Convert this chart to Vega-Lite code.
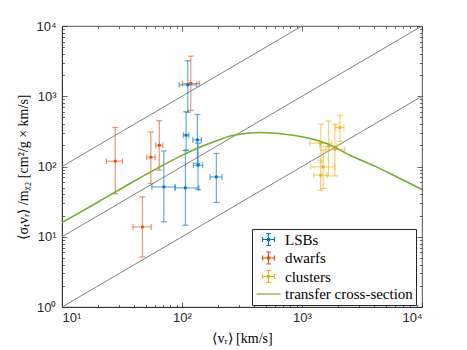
{
  "$schema": "https://vega.github.io/schema/vega-lite/v6.json",
  "width": 360,
  "height": 281,
  "autosize": "none",
  "padding": {"left": 62, "top": 26, "right": 45, "bottom": 43},
  "background": "white",
  "config": {
    "view": {"stroke": "#262626", "strokeWidth": 0.8},
    "axis": {
      "domainColor": "#262626", "domainWidth": 0.8,
      "tickColor": "#262626", "tickWidth": 0.7,
      "labelFont": "Liberation Sans", "labelFontSize": 13, "labelColor": "#262626",
      "titleFont": "Liberation Serif", "titleFontSize": 14, "titleFontWeight": "normal", "titleColor": "#000000",
      "grid": false, "labelOverlap": false, "labelBound": false
    }
  },
  "datasets": {
    "pts": [
      {"s": "LSBs", "x": 111.8, "xlo": 94.6, "xhi": 132.8, "y": 1453, "ylo": 594, "yhi": 3194},
      {"s": "LSBs", "x": 108.2, "xlo": 102.7, "xhi": 113.9, "y": 279, "ylo": 170.7, "yhi": 600},
      {"s": "LSBs", "x": 134.3, "xlo": 123, "xhi": 145, "y": 239, "ylo": 111, "yhi": 550},
      {"s": "LSBs", "x": 136.1, "xlo": 124.4, "xhi": 148.9, "y": 104.3, "ylo": 47, "yhi": 215},
      {"s": "LSBs", "x": 193.3, "xlo": 171.3, "xhi": 215.6, "y": 71.1, "ylo": 30.7, "yhi": 153.2},
      {"s": "LSBs", "x": 70.6, "xlo": 56.1, "xhi": 87.6, "y": 51.2, "ylo": 16.3, "yhi": 166.8},
      {"s": "LSBs", "x": 106.7, "xlo": 87.6, "xhi": 138, "y": 49.6, "ylo": 14.6, "yhi": 169},
      {"s": "dwarfs", "x": 27.8, "xlo": 23.4, "xhi": 31.9, "y": 119, "ylo": 41, "yhi": 359},
      {"s": "dwarfs", "x": 55, "xlo": 50.9, "xhi": 59.7, "y": 135.7, "ylo": 57.3, "yhi": 311},
      {"s": "dwarfs", "x": 64.7, "xlo": 60.5, "xhi": 69.2, "y": 201, "ylo": 88.6, "yhi": 449},
      {"s": "dwarfs", "x": 46.8, "xlo": 39, "xhi": 55.3, "y": 13.8, "ylo": 5.16, "yhi": 36.9},
      {"s": "dwarfs", "x": 118.4, "xlo": 100.8, "xhi": 139.6, "y": 1521, "ylo": 628, "yhi": 3725},
      {"s": "clusters", "x": 2067, "xlo": 1914, "xhi": 2232, "y": 359, "ylo": 229, "yhi": 538},
      {"s": "clusters", "x": 1664, "xlo": 1409, "xhi": 1951, "y": 194.6, "ylo": 73.5, "yhi": 446},
      {"s": "clusters", "x": 1878, "xlo": 1581, "xhi": 2275, "y": 174.7, "ylo": 73.5, "yhi": 400},
      {"s": "clusters", "x": 1501, "xlo": 1179, "xhi": 1878, "y": 98.7, "ylo": 48.6, "yhi": 170.7},
      {"s": "clusters", "x": 1428, "xlo": 1256, "xhi": 1621, "y": 75.2, "ylo": 46, "yhi": 123},
      {"s": "clusters", "x": 1436, "xlo": 1163, "xhi": 1763, "y": 214.7, "ylo": 115, "yhi": 400}
    ],
    "curve": [
      {"v": 10, "sv": 15.9},
      {"v": 20, "sv": 31.3},
      {"v": 39.8, "sv": 61.7},
      {"v": 63.1, "sv": 95.5},
      {"v": 100, "sv": 144},
      {"v": 132.8, "sv": 180.5},
      {"v": 199.5, "sv": 237},
      {"v": 267.7, "sv": 279},
      {"v": 446, "sv": 305},
      {"v": 845, "sv": 279},
      {"v": 1602, "sv": 212.6},
      {"v": 2512, "sv": 144.6},
      {"v": 4176, "sv": 98.7},
      {"v": 6310, "sv": 69.7},
      {"v": 10000, "sv": 47}
    ],
    "diag": [
      {"x": 10, "y": 100, "x2": 1000, "y2": 10000},
      {"x": 10, "y": 10, "x2": 10000, "y2": 10000},
      {"x": 10, "y": 1, "x2": 10000, "y2": 1000}
    ]
  },
  "layer": [
    {
      "data": {"name": "diag"},
      "mark": {"type": "rule", "color": "#808080", "strokeWidth": 1},
      "encoding": {
        "x": {"field": "x", "type": "quantitative",
          "scale": {"type": "log", "domain": [10, 10000], "nice": false},
          "axis": {
            "orient": "bottom",
            "title": "⟨vᵣ⟩ [km/s]",
            "titlePadding": 5,
            "values": [10,20,30,40,50,60,70,80,90,100,200,300,400,500,600,700,800,900,1000,2000,3000,4000,5000,6000,7000,8000,9000,10000],
            "labelExpr": "datum.value == 10 ? '10¹' : datum.value == 100 ? '10²' : datum.value == 1000 ? '10³' : datum.value == 10000 ? '10⁴' : ''",
            "tickSize": {"condition": {"test": "indexof([10,100,1000,10000], datum.value) >= 0", "value": -5}, "value": -2.5},
            "labelPadding": 9
          }
        },
        "y": {"field": "y", "type": "quantitative",
          "scale": {"type": "log", "domain": [1, 10000], "nice": false},
          "axis": {
            "orient": "left",
            "title": "⟨σₜvᵣ⟩ /mᵪ₂   [cm²/g × km/s]",
            "titlePadding": 5,
            "values": [1,2,3,4,5,6,7,8,9,10,20,30,40,50,60,70,80,90,100,200,300,400,500,600,700,800,900,1000,2000,3000,4000,5000,6000,7000,8000,9000,10000],
            "labelExpr": "datum.value == 1 ? '10⁰' : datum.value == 10 ? '10¹' : datum.value == 100 ? '10²' : datum.value == 1000 ? '10³' : datum.value == 10000 ? '10⁴' : ''",
            "tickSize": {"condition": {"test": "indexof([1,10,100,1000,10000], datum.value) >= 0", "value": -5}, "value": -2.5},
            "labelPadding": 11
          }
        },
        "x2": {"field": "x2"},
        "y2": {"field": "y2"}
      }
    },
    {
      "data": {"name": "pts"},
      "mark": {"type": "rule", "strokeWidth": 1.2, "opacity": 0.6},
      "encoding": {
        "x": {"field": "x", "type": "quantitative", "axis": null},
        "y": {"field": "ylo", "type": "quantitative", "axis": null},
        "y2": {"field": "yhi"},
        "color": {"field": "s", "type": "nominal", "legend": null,
          "scale": {"domain": ["LSBs", "dwarfs", "clusters", "transfer cross-section"], "range": ["#0072BD", "#D95319", "#EDB120", "#77AC30"]}}
      }
    },
    {
      "data": {"name": "pts"},
      "mark": {"type": "rule", "strokeWidth": 1.2, "opacity": 0.6},
      "encoding": {
        "x": {"field": "xlo", "type": "quantitative", "axis": null},
        "x2": {"field": "xhi"},
        "y": {"field": "y", "type": "quantitative", "axis": null},
        "color": {"field": "s", "type": "nominal", "legend": null}
      }
    },
    {
      "data": {"name": "pts"},
      "mark": {"type": "tick", "orient": "horizontal", "size": 6, "thickness": 1.2, "opacity": 0.6},
      "encoding": {
        "x": {"field": "x", "type": "quantitative", "axis": null},
        "y": {"field": "ylo", "type": "quantitative", "axis": null},
        "color": {"field": "s", "type": "nominal", "legend": null}
      }
    },
    {
      "data": {"name": "pts"},
      "mark": {"type": "tick", "orient": "horizontal", "size": 6, "thickness": 1.2, "opacity": 0.6},
      "encoding": {
        "x": {"field": "x", "type": "quantitative", "axis": null},
        "y": {"field": "yhi", "type": "quantitative", "axis": null},
        "color": {"field": "s", "type": "nominal", "legend": null}
      }
    },
    {
      "data": {"name": "pts"},
      "mark": {"type": "tick", "orient": "vertical", "size": 6, "thickness": 1.2, "opacity": 0.6},
      "encoding": {
        "x": {"field": "xlo", "type": "quantitative", "axis": null},
        "y": {"field": "y", "type": "quantitative", "axis": null},
        "color": {"field": "s", "type": "nominal", "legend": null}
      }
    },
    {
      "data": {"name": "pts"},
      "mark": {"type": "tick", "orient": "vertical", "size": 6, "thickness": 1.2, "opacity": 0.6},
      "encoding": {
        "x": {"field": "xhi", "type": "quantitative", "axis": null},
        "y": {"field": "y", "type": "quantitative", "axis": null},
        "color": {"field": "s", "type": "nominal", "legend": null}
      }
    },
    {
      "data": {"name": "pts"},
      "mark": {"type": "point", "shape": "square", "size": 8, "filled": true, "opacity": 1},
      "encoding": {
        "x": {"field": "x", "type": "quantitative", "axis": null},
        "y": {"field": "y", "type": "quantitative", "axis": null},
        "color": {"field": "s", "type": "nominal", "legend": null}
      }
    },
    {
      "data": {"name": "curve"},
      "mark": {"type": "line", "color": "#77AC30", "strokeWidth": 1.6, "interpolate": "monotone", "clip": true},
      "encoding": {
        "x": {"field": "v", "type": "quantitative",
          "axis": {
            "orient": "top", "labels": false, "title": null, "domain": false,
            "values": [10,20,30,40,50,60,70,80,90,100,200,300,400,500,600,700,800,900,1000,2000,3000,4000,5000,6000,7000,8000,9000,10000],
            "tickSize": {"condition": {"test": "indexof([10,100,1000,10000], datum.value) >= 0", "value": -5}, "value": -2.5}
          }
        },
        "y": {"field": "sv", "type": "quantitative",
          "axis": {
            "orient": "right", "labels": false, "title": null, "domain": false,
            "values": [1,2,3,4,5,6,7,8,9,10,20,30,40,50,60,70,80,90,100,200,300,400,500,600,700,800,900,1000,2000,3000,4000,5000,6000,7000,8000,9000,10000],
            "tickSize": {"condition": {"test": "indexof([1,10,100,1000,10000], datum.value) >= 0", "value": -5}, "value": -2.5}
          }
        }
      }
    },
    {
      "data": {"name": "pts"},
      "mark": {"type": "point", "opacity": 0, "filled": false},
      "encoding": {
        "x": {"field": "x", "type": "quantitative", "axis": null},
        "y": {"field": "y", "type": "quantitative", "axis": null},
        "color": {"field": "s", "type": "nominal",
          "legend": {
            "orient": "none", "legendX": 190, "legendY": 203, "title": null,
            "symbolSize": 144, "symbolStrokeWidth": 1.2, "symbolOpacity": 1,
            "symbolFillColor": "transparent", "symbolOffset": 6,
            "labelFont": "Liberation Serif", "labelFontSize": 15, "labelColor": "#000000",
            "labelOffset": 9, "padding": 3, "rowPadding": 1.5,
            "strokeColor": "#262626", "fillColor": "#ffffff"
          }
        },
        "shape": {"field": "s", "type": "nominal",
          "scale": {"domain": ["LSBs", "dwarfs", "clusters", "transfer cross-section"],
            "range": [
              "M-1,0H1M0,-1V1M-1,-0.4V0.4M1,-0.4V0.4M-0.4,-1H0.4M-0.4,1H0.4M-0.16,-0.16H0.16V0.16H-0.16Z",
              "M-1,0H1M0,-1V1M-1,-0.4V0.4M1,-0.4V0.4M-0.4,-1H0.4M-0.4,1H0.4M-0.16,-0.16H0.16V0.16H-0.16Z",
              "M-1,0H1M0,-1V1M-1,-0.4V0.4M1,-0.4V0.4M-0.4,-1H0.4M-0.4,1H0.4M-0.16,-0.16H0.16V0.16H-0.16Z",
              "M-2,0H2"
            ]},
          "legend": {
            "orient": "none", "legendX": 190, "legendY": 203, "title": null,
            "symbolSize": 144, "symbolStrokeWidth": 1.2, "symbolOpacity": 1,
            "symbolFillColor": "transparent", "symbolOffset": 6,
            "labelFont": "Liberation Serif", "labelFontSize": 15, "labelColor": "#000000",
            "labelOffset": 9, "padding": 3, "rowPadding": 1.5,
            "strokeColor": "#262626", "fillColor": "#ffffff"
          }
        }
      }
    }
  ],
  "resolve": {"axis": {"x": "independent", "y": "independent"}, "legend": {"color": "independent", "shape": "independent"}}
}
